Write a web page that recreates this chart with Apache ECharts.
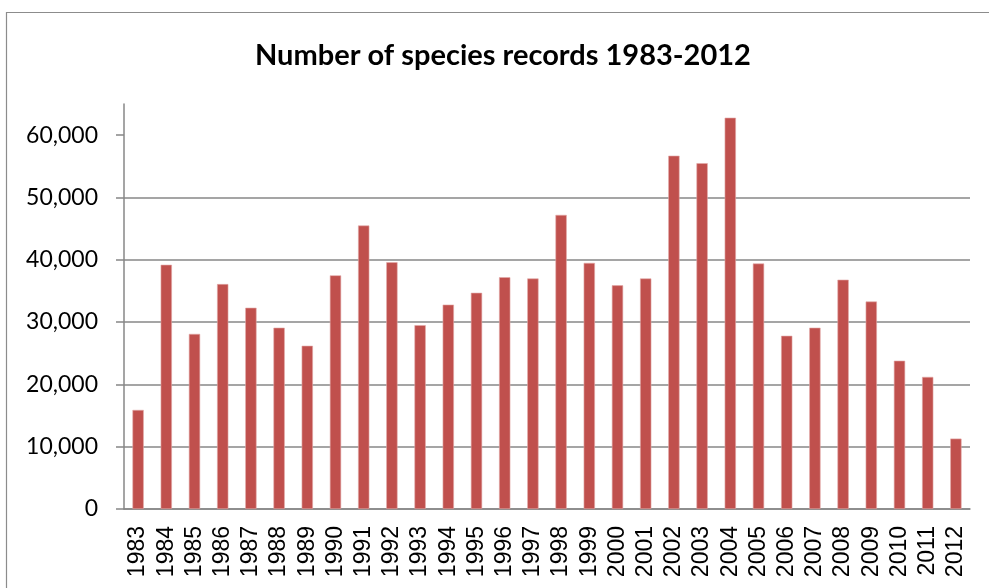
<!DOCTYPE html>
<html>
<head>
<meta charset="utf-8">
<script src="https://cdn.jsdelivr.net/npm/echarts@6/dist/echarts.min.js"></script>
<style>
  html, body { margin: 0; padding: 0; background: #ffffff; }
  #chart { width: 989px; height: 588px; }
</style>
</head>
<body>
<div id="chart"></div>
<script>
// Yearly totals of species records
const years = ['1983','1984','1985','1986','1987','1988','1989','1990','1991','1992',
               '1993','1994','1995','1996','1997','1998','1999','2000','2001','2002',
               '2003','2004','2005','2006','2007','2008','2009','2010','2011','2012'];
const records = [15900, 39200, 28100, 36100, 32300, 29100, 26200, 37500, 45500, 39600,
                 29500, 32800, 34700, 37200, 37000, 47200, 39500, 35900, 37000, 56700,
                 55500, 62800, 39400, 27800, 29100, 36800, 33300, 23800, 21200, 11300];
const yTicks = [0, 10000, 20000, 30000, 40000, 50000, 60000];
const yMax = 65000;

const chart = echarts.init(document.getElementById('chart'), null, { renderer: 'canvas' });

chart.setOption({
  animation: false,
  backgroundColor: '#ffffff',
  title: {
    text: 'Number of species records 1983-2012',
    left: 255,
    top: 41,
    padding: 0,
    textStyle: {
      fontFamily: 'Lato',
      fontWeight: 'bold',
      fontSize: 29,
      color: '#000000'
    }
  },
  graphic: [{
    type: 'rect',
    silent: true,
    shape: { x: 6.5, y: 12.5, width: 1000, height: 1000 },
    style: { fill: 'none', stroke: '#8c8c8c', lineWidth: 1.2 }
  }],
  grid: { left: 124, right: 19, top: 104, bottom: 79, containLabel: false },
  xAxis: {
    type: 'category',
    data: years,
    axisLine: { show: true, lineStyle: { color: '#878787', width: 1.5 } },
    axisTick: { show: false },
    axisLabel: {
      rotate: 90,
      margin: 17,
      fontFamily: 'Liberation Sans',
      fontSize: 23,
      color: '#000000',
      interval: 0
    }
  },
  yAxis: {
    type: 'value',
    min: 0,
    max: yMax,
    interval: 10000,
    axisLine: { show: true, lineStyle: { color: '#878787', width: 1.5 } },
    axisTick: {
      show: true,
      length: 8,
      inside: false,
      customValues: yTicks,
      lineStyle: { color: '#878787', width: 1.5 }
    },
    axisLabel: {
      margin: 26,
      fontFamily: 'Lato',
      fontSize: 23,
      color: '#000000',
      customValues: yTicks,
      formatter: v => v.toLocaleString('en-US')
    },
    splitLine: {
      show: true,
      showMaxLine: false,
      lineStyle: { color: '#878787', width: 1.5 }
    }
  },
  series: [{
    type: 'bar',
    data: records,
    barWidth: '40%',
    itemStyle: { color: '#C0504D', borderColor: '#e3a9a7', borderWidth: 0.6 }
  }]
});
</script>
</body>
</html>
